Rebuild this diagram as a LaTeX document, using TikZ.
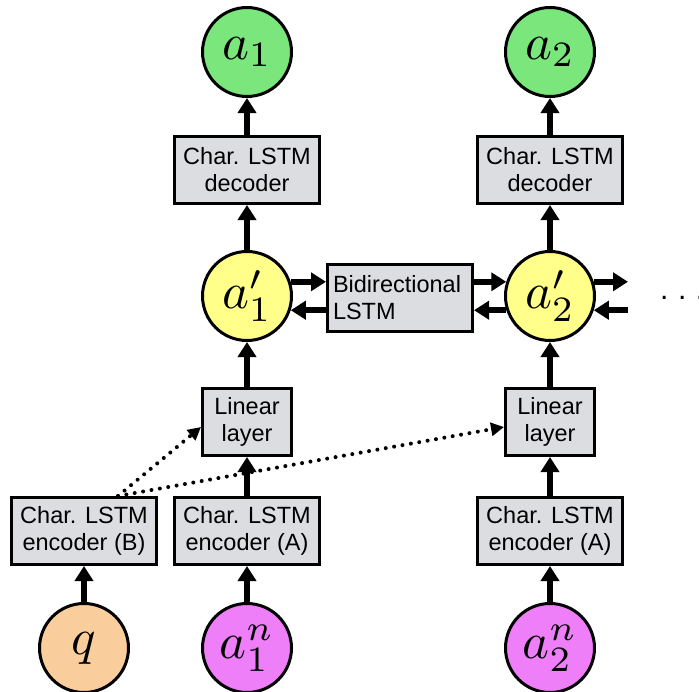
\documentclass[tikz,border=0pt]{standalone}
\usepackage{graphicx}
\usepackage{fontspec}
\newfontfamily\hel{Liberation Sans}
\usetikzlibrary{arrows.meta,calc}

\definecolor{boxgray}{RGB}{220,221,225}
\definecolor{outgreen}{RGB}{122,230,124}
\definecolor{hidyellow}{RGB}{255,255,137}
\definecolor{qorange}{RGB}{249,206,156}
\definecolor{inpink}{RGB}{238,127,248}

% large math symbol inside a variable circle
\newcommand{\bigvar}[1]{\scalebox{5.1}{\normalsize$#1$}}

\begin{document}
\begin{tikzpicture}[x=1pt,y=-1pt,
  block/.style={draw, line width=3pt, fill=boxgray, minimum height=67pt,
    inner sep=2pt, align=center, font=\hel\fontsize{23.5}{27}\selectfont},
  wide/.style={block, minimum width=145pt},
  narrow/.style={block, minimum width=89pt},
  var/.style={circle, draw, line width=3pt, minimum size=89pt, inner sep=0pt},
  flow/.style={line width=5.5pt, -{Triangle[length=15pt,width=18pt]}},
  side/.style={dash pattern=on 0pt off 8.5pt, line cap=round, line width=4pt,
    -{Triangle[length=13pt,width=13pt]}},
  ellip/.style={font=\hel\fontsize{30}{32}\selectfont, anchor=base west, inner sep=0pt}
]
\useasboundingbox (0,0) rectangle (699,691);

% first answer column
\node[var, fill=outgreen] (a1) at (247,52) {\bigvar{a_1}};
\node[wide] (dec1) at (247,170) {Char. LSTM\\decoder};
\node[var, fill=hidyellow] (ap1) at (247,296) {\bigvar{a'_1}};
\node[narrow] (lin1) at (247,422) {Linear\\layer};
\node[wide] (enc1) at (247,531) {Char. LSTM\\encoder (A)};
\node[var, fill=inpink] (an1) at (247,648) {\bigvar{a_1^n}};

% second answer column
\node[var, fill=outgreen] (a2) at (550,52) {\bigvar{a_2}};
\node[wide] (dec2) at (550,170) {Char. LSTM\\decoder};
\node[var, fill=hidyellow] (ap2) at (550,296) {\bigvar{a'_2}};
\node[narrow] (lin2) at (550,422) {Linear\\layer};
\node[wide] (enc2) at (550,531) {Char. LSTM\\encoder (A)};
\node[var, fill=inpink] (an2) at (550,648) {\bigvar{a_2^n}};

% question branch
\node[wide] (encB) at (84,531) {Char. LSTM\\encoder (B)};
\node[var, fill=qorange] (q) at (84,648) {\bigvar{q}};

% bidirectional layer between the columns
\node[block, minimum width=145pt, text width=134pt, inner xsep=5.5pt, align=left]
  (bi) at (400,298) {Bidirectional\\LSTM};

% vertical flow
\foreach \c in {1,2} {
  \draw[flow] (an\c) -- (enc\c);
  \draw[flow] (enc\c) -- (lin\c);
  \draw[flow] (lin\c) -- (ap\c);
  \draw[flow] (ap\c) -- (dec\c);
  \draw[flow] (dec\c) -- (a\c);
}
\draw[flow] (q) -- (encB);

% recurrent connections
\draw[flow] (ap1.18) -- (ap1.18 -| bi.west);
\draw[flow] (bi.west |- ap1.-18) -- (ap1.-18);
\draw[flow] (bi.east |- ap2.162) -- (ap2.162);
\draw[flow] (ap2.198) -- (ap2.198 -| bi.east);
\coordinate (outR) at (628,282);
\coordinate (inR) at (628,310);
\draw[flow] (ap2.18) -- (ap2.18 -| outR);
\draw[flow] (inR |- ap2.-18) -- (ap2.-18);
\node[ellip] (more) at (660,299) {.\hspace{9.5pt}.\hspace{9.5pt}.};

% question encoding fed to every linear layer
\coordinate (fork) at ([xshift=34pt]encB.north);
\draw[side] (fork) -- ([yshift=-5pt]lin1.west);
\draw[side] (fork) -- ([yshift=-5pt]lin2.west);
\end{tikzpicture}
\end{document}
